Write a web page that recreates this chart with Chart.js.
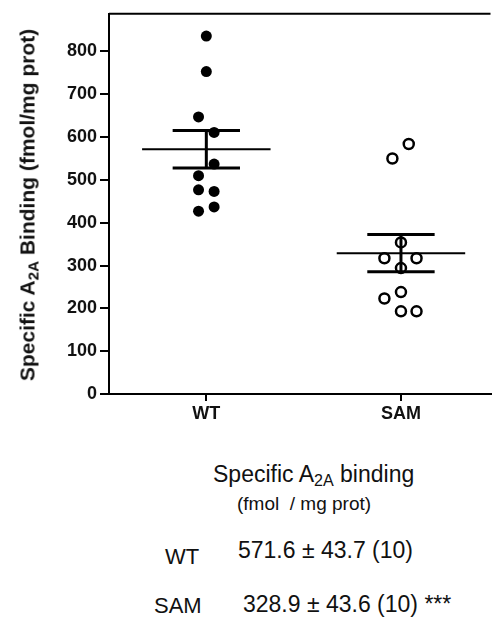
<!DOCTYPE html>
<html>
<head>
<meta charset="utf-8">
<script src="https://cdn.jsdelivr.net/npm/chart.js@4/dist/chart.umd.min.js"></script>
<style>
  html, body { margin: 0; padding: 0; background: #fff; }
  body { width: 498px; height: 617px; position: relative; overflow: hidden; font-family: "Liberation Sans", Arial, sans-serif; color: #111; }
  #wrap { position: absolute; left: 0; top: 0; width: 498px; height: 430px; }
  .txt { position: absolute; white-space: nowrap; line-height: 1; }
  .txt sub { font-size: 70%; vertical-align: -0.25em; line-height: 0; }
  #ytitle { position: absolute; left: 27px; top: 205px; transform: translate(-50%, -50%) rotate(-90deg); font-weight: bold; font-size: 21px; white-space: nowrap; line-height: 1; }
  #ytitle sub { font-size: 72%; vertical-align: -0.25em; line-height: 0; }
</style>
</head>
<body>
<div id="wrap"><canvas id="chart"></canvas></div>
<div id="ytitle">Specific A<sub>2A</sub> Binding (fmol/mg prot)</div>

<div class="txt" style="left:213px; top:463px; font-size:23px;">Specific A<sub>2A</sub> binding</div>
<div class="txt" style="left:237px; top:494px; font-size:19px;">(fmol&nbsp; / mg prot)</div>
<div class="txt" style="left:165px; top:546px; font-size:22px;">WT</div>
<div class="txt" style="left:238px; top:539px; font-size:23px;">571.6 ± 43.7 (10)</div>
<div class="txt" style="left:154px; top:595px; font-size:22px;">SAM</div>
<div class="txt" style="left:243px; top:593px; font-size:23px;">328.9 ± 43.6 (10) ***</div>

<script>
// --- Data ---
const groups = ['WT', 'SAM'];
const groupX = [1, 2];
const yTicks = [0, 100, 200, 300, 400, 500, 600, 700, 800];

const wtValues = [836, 753, 647, 611, 537, 510, 477, 473, 437, 427];
const wtJitter = [0, 0, -0.04, 0.04, 0.04, -0.04, -0.04, 0.04, 0.04, -0.04];

const samValues = [584, 550, 354, 317, 317, 294, 238, 223, 193, 193];
const samJitter = [0.04, -0.044, 0, -0.085, 0.08, 0, 0, -0.085, 0, 0.08];

const means = [571.6, 328.9];
const sems = [43.7, 43.6];

// Helper: build the mean line + SEM error bar segments for one group
function errorBarDatasets(x, mean, sem) {
    const seg = (pts, w) => ({
        type: 'scatter',
        data: pts,
        showLine: true,
        borderColor: '#000',
        borderWidth: w,
        pointRadius: 0,
        order: 1
    });
    return [
        seg([{ x: x - 0.33, y: mean }, { x: x + 0.33, y: mean }], 2),
        seg([{ x: x - 0.173, y: mean + sem }, { x: x + 0.173, y: mean + sem }], 3),
        seg([{ x: x - 0.173, y: mean - sem }, { x: x + 0.173, y: mean - sem }], 3),
        seg([{ x: x, y: mean - sem }, { x: x, y: mean + sem }], 3)
    ];
}

const topBorder = {
    id: 'topBorder',
    afterDraw(chart) {
        const { ctx, chartArea } = chart;
        ctx.save();
        ctx.strokeStyle = '#000';
        ctx.lineWidth = 2;
        ctx.beginPath();
        ctx.moveTo(chartArea.left, chartArea.top);
        ctx.lineTo(chartArea.right, chartArea.top);
        ctx.stroke();
        ctx.restore();
    }
};

const tickFont = { family: '"Liberation Sans", Arial, sans-serif', size: 18, weight: 'bold' };

new Chart(document.getElementById('chart'), {
    type: 'scatter',
    data: {
        datasets: [
            {
                label: groups[0],
                data: wtValues.map((v, i) => ({ x: groupX[0] + wtJitter[i], y: v })),
                pointRadius: 5.5,
                pointBackgroundColor: '#000',
                pointBorderColor: '#000',
                pointBorderWidth: 0,
                order: 2
            },
            {
                label: groups[1],
                data: samValues.map((v, i) => ({ x: groupX[1] + samJitter[i], y: v })),
                pointRadius: 5,
                pointBackgroundColor: '#fff',
                pointBorderColor: '#000',
                pointBorderWidth: 2.5,
                order: 2
            },
            ...errorBarDatasets(groupX[0], means[0], sems[0]),
            ...errorBarDatasets(groupX[1], means[1], sems[1])
        ]
    },
    options: {
        responsive: true,
        maintainAspectRatio: false,
        animation: false,
        layout: { padding: { top: 12, right: 0, left: 0, bottom: 0 } },
        plugins: {
            legend: { display: false },
            tooltip: { enabled: false }
        },
        scales: {
            x: {
                type: 'linear',
                min: 0.5,
                max: 2.46,
                afterBuildTicks: (scale) => { scale.ticks = groupX.map(v => ({ value: v })); },
                afterFit: (scale) => { scale.height = 36; },
                ticks: {
                    color: '#111',
                    font: tickFont,
                    padding: 2,
                    callback: (v) => groups[groupX.indexOf(v)]
                },
                grid: { drawOnChartArea: false, drawTicks: true, tickLength: 7, color: '#000', lineWidth: 2 },
                border: { display: true, color: '#000', width: 2 }
            },
            y: {
                min: 0,
                max: 888,
                afterBuildTicks: (scale) => { scale.ticks = yTicks.map(v => ({ value: v })); },
                afterFit: (scale) => { scale.width = 109; },
                ticks: { color: '#111', font: tickFont, padding: 3 },
                grid: { drawOnChartArea: false, drawTicks: true, tickLength: 9, color: '#000', lineWidth: 2 },
                border: { display: true, color: '#000', width: 2 }
            }
        }
    },
    plugins: [topBorder]
});
</script>
</body>
</html>
